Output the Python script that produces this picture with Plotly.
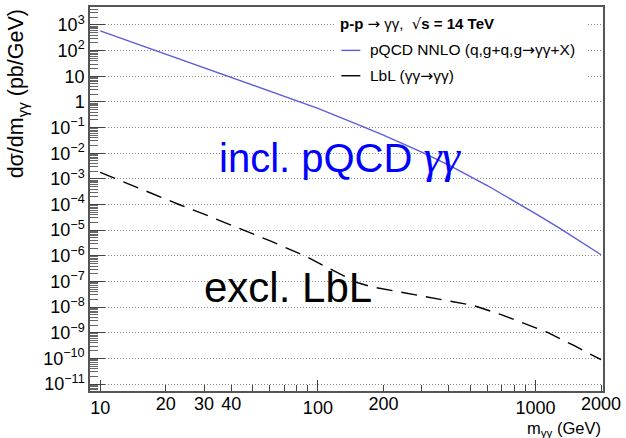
import plotly.graph_objects as go

# Inclusive pQCD NNLO diphoton spectrum, p-p at 14 TeV (pb/GeV)
m_pqcd = [10, 15, 20, 30, 40, 60, 80, 100, 150, 200, 300, 400, 600, 800, 1000, 1300, 1600, 2000]
xs_pqcd = [590, 174, 74, 22, 9.2, 2.7, 1.15, 0.56, 0.14, 0.051, 0.011, 3.4e-3, 5.5e-4,
           1.35e-4, 4.4e-5, 1.15e-5, 3.8e-6, 1.1e-6]

# Exclusive light-by-light (gamma gamma -> gamma gamma) spectrum (pb/GeV)
m_lbl = [10, 12, 15, 23, 30, 46, 60, 87, 100, 120, 150, 175, 210, 300, 400, 520, 700,
         1000, 1130, 1500, 2000]
xs_lbl = [1.8e-3, 9.5e-4, 4.4e-4, 1.0e-4, 4.2e-5, 1.0e-5, 3.9e-6, 1.0e-6, 5.4e-7, 2.4e-7,
          9.3e-8, 6.3e-8, 4.7e-8, 2.7e-8, 1.75e-8, 1.15e-8, 5.0e-9, 1.55e-9, 1.05e-9,
          3.2e-10, 8.9e-11]

# Axis tick labels
x_major = [10, 100, 1000]
x_major_text = ["10", "100", "1000"]
x_extra = [20, 30, 40, 200, 2000]
x_extra_text = ["20", "30", "40", "200", "2000"]
y_exp = list(range(-11, 4))
y_vals = [10.0 ** e for e in y_exp]
y_text = ["1" if e == 0 else "10" if e == 1 else f"10<sup>{e}</sup>".replace("-", "\u2212")
          for e in y_exp]

x_minor = [d * k for d in (10, 100) for k in range(2, 10)] + [2000]
y_minor = [k * 10.0 ** e for e in range(-12, 4) for k in range(2, 10)]

FONT = "Liberation Sans, Arial, sans-serif"
SYM = "DejaVu Sans, sans-serif"
SERIF = "Liberation Serif, Times New Roman, serif"
BLUE = "#5c5cdc"
XRANGE = [0.953, 3.31]
YRANGE = [-11.27, 3.70]


def sym(s):
    return f"<span style=\"font-family:{SYM}\">{s}</span>"


fig = go.Figure()
fig.add_trace(go.Scatter(x=m_pqcd, y=xs_pqcd, mode="lines",
                         line=dict(color=BLUE, width=1.4), showlegend=False,
                         xaxis="x", yaxis="y"))
fig.add_trace(go.Scatter(x=m_lbl, y=xs_lbl, mode="lines",
                         line=dict(color="black", width=1.4, dash="16px,9px"),
                         showlegend=False, xaxis="x2", yaxis="y"))

axis_line = dict(showline=True, linecolor="#555", linewidth=1.5, mirror=True)

fig.update_layout(
    width=626, height=438,
    margin=dict(l=90, r=20, t=5, b=47),
    paper_bgcolor="white", plot_bgcolor="white",
    font=dict(family=FONT, size=18, color="black"),
    xaxis=dict(type="log", range=XRANGE, tickmode="array", tickvals=x_major,
               ticktext=x_major_text, ticks="inside", ticklen=11, tickcolor="#444",
               showgrid=False, zeroline=False,
               minor=dict(tickmode="array", tickvals=x_minor, ticks="inside",
                          ticklen=6, tickcolor="#444", showgrid=False),
               tickfont=dict(size=18), **axis_line),
    xaxis2=dict(type="log", range=XRANGE, overlaying="x", anchor="y", side="bottom",
                tickmode="array", tickvals=x_extra, ticktext=x_extra_text,
                ticks="", showgrid=False, showline=False, zeroline=False,
                tickfont=dict(size=18)),
    yaxis=dict(type="log", range=YRANGE, tickmode="array", tickvals=y_vals,
               ticktext=y_text, ticks="inside", ticklen=15, tickcolor="#444",
               showgrid=True, gridcolor="#8a8a8a", griddash="1px,2px", gridwidth=1,
               zeroline=False,
               minor=dict(tickmode="array", tickvals=y_minor, ticks="inside",
                          ticklen=8, tickcolor="#666", showgrid=False),
               tickfont=dict(size=18), **axis_line),
)

# Legend block: white panel, header and two entries
fig.add_shape(type="rect", xref="paper", yref="paper", x0=0.478, x1=0.97, y0=0.775,
              y1=0.99, fillcolor="white", line=dict(width=0), layer="above")
fig.add_shape(type="line", xref="paper", yref="paper", x0=0.49, x1=0.527, y0=0.887,
              y1=0.887, line=dict(color=BLUE, width=1.4), layer="above")
fig.add_shape(type="line", xref="paper", yref="paper", x0=0.49, x1=0.527, y0=0.821,
              y1=0.821, line=dict(color="black", width=1.4), layer="above")

fig.add_annotation(xref="paper", yref="paper", x=0.484, y=0.955, xanchor="left",
                   yanchor="middle", showarrow=False, font=dict(size=15),
                   text=f"<b>p-p</b> {sym('\u2192')} \u03b3\u03b3,  {sym('\u221a')}<b>s = 14 TeV</b>")
fig.add_annotation(xref="paper", yref="paper", x=0.542, y=0.887, xanchor="left",
                   yanchor="middle", showarrow=False, font=dict(size=15.5),
                   text=f"pQCD NNLO (q,g+q,g{sym('\u2192')}\u03b3\u03b3+X)")
fig.add_annotation(xref="paper", yref="paper", x=0.542, y=0.821, xanchor="left",
                   yanchor="middle", showarrow=False, font=dict(size=15.5),
                   text=f"LbL (\u03b3\u03b3{sym('\u2192')}\u03b3\u03b3)")

# Curve labels
fig.add_annotation(xref="paper", yref="paper", x=0.247, y=0.611, xanchor="left",
                   yanchor="middle", showarrow=False,
                   font=dict(size=40, color="#0000ff"),
                   text=("incl. pQCD <span style=\"font-family:" + SERIF
                         + ";font-size:46px\"><i>\u03b3\u03b3</i></span>"))
fig.add_annotation(xref="paper", yref="paper", x=0.218, y=0.27, xanchor="left",
                   yanchor="middle", showarrow=False, font=dict(size=42, color="black"),
                   text="excl. LbL")

# Axis titles
fig.add_annotation(xref="paper", yref="paper", x=1.0, y=-0.098, xanchor="right",
                   yanchor="middle", showarrow=False, font=dict(size=16.5),
                   text="m<sub>\u03b3\u03b3</sub> (GeV)")
fig.add_annotation(xref="paper", yref="paper", x=-0.1406, y=1.0, xanchor="center",
                   yanchor="top", showarrow=False, textangle=-90, font=dict(size=21.5),
                   text="d\u03c3/dm<sub>\u03b3\u03b3</sub> (pb/GeV)")

fig.write_html("out.html")
